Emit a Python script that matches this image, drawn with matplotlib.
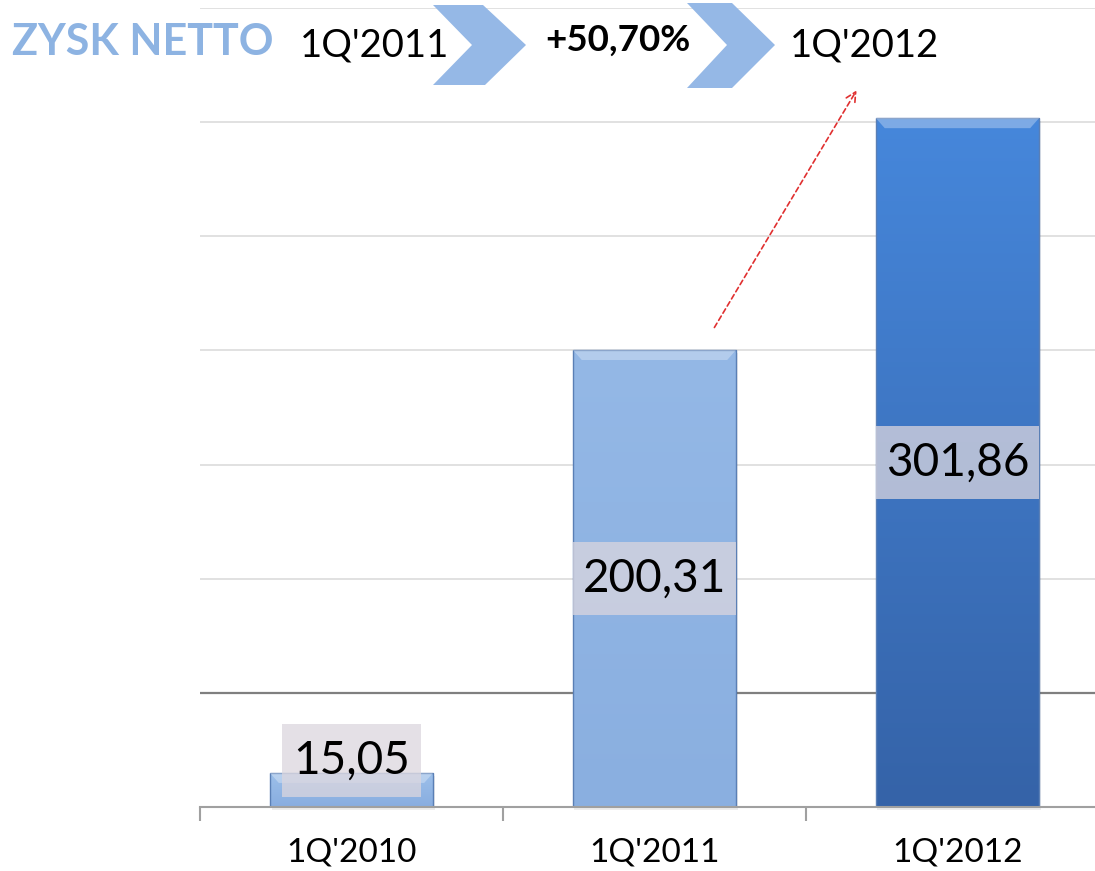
import numpy as np
import matplotlib
matplotlib.use("Agg")
import matplotlib.pyplot as plt
from matplotlib.patches import Rectangle, Polygon
from matplotlib.colors import to_rgb

categories = ["1Q'2010", "1Q'2011", "1Q'2012"]
values = [15.05, 200.31, 301.86]
labels = ["15,05", "200,31", "301,86"]
title = "ZYSK NETTO"
header_from = "1Q'2011"
header_change = "+50,70%"
header_to = "1Q'2012"

top_colors = ["#9dc0ea", "#94b8e6", "#4687db"]
bottom_colors = ["#88ade0", "#8aafe0", "#3563a8"]

plt.rcParams["font.family"] = ["Lato", "DejaVu Sans"]

fig = plt.figure(figsize=(10.95, 8.71), dpi=100)
W, H = 1095, 871
ax = fig.add_axes([200 / W, 64 / H, 895 / W, 799 / H])
ax.set_xlim(-0.5, 2.454)
ax.set_ylim(0, 350)

# gridlines
for g in range(50, 351, 50):
    if g == 50:
        ax.axhline(g, color="#7f7f7f", lw=1.6, zorder=1)
    else:
        ax.axhline(g, color="#dcdcdc", lw=1.2, zorder=1)

x = np.arange(len(categories))
bw = 0.54
bars = ax.bar(x, values, width=bw, color="none", edgecolor="none", zorder=3)

# gradient fill + bevel
for i, b in enumerate(bars):
    x0, w, h = b.get_x(), b.get_width(), b.get_height()
    # soft shadow
    ax.add_patch(Rectangle((x0 + 0.006, -1.5), w, h, facecolor="#000000", alpha=0.07,
                           edgecolor="none", zorder=2, clip_on=False))
    c1 = np.array(to_rgb(top_colors[i]))
    c2 = np.array(to_rgb(bottom_colors[i]))
    t = np.linspace(0, 1, 100)[:, None]
    img = (c1 * (1 - t) + c2 * t)[:, None, :]
    im = ax.imshow(img, extent=[x0, x0 + w, 0, h], aspect="auto", zorder=3,
                   interpolation="bicubic", origin="upper")
    rect = Rectangle((x0, 0), w, h, facecolor="none", edgecolor="#5a7fb5", lw=1.0, zorder=4)
    ax.add_patch(rect)
    im.set_clip_path(rect)
    # top bevel highlight
    bev = min(4.5, h * 0.3)
    ax.add_patch(Polygon([[x0, h], [x0 + w, h], [x0 + w - 0.03, h - bev], [x0 + 0.03, h - bev]],
                         closed=True, facecolor="white", alpha=0.3, edgecolor="none", zorder=4))

# value labels with boxes
for i, v in enumerate(values):
    ly = v / 2 if v / 2 > 25 else 20.5
    x0 = x[i] - bw / 2
    bwid = bw
    if v / 2 <= 25:
        x0 = x[i] - 0.23
        bwid = 0.46
    ax.add_patch(Rectangle((x0, ly - 16), bwid, 32, facecolor="#dbd6de", alpha=0.75,
                           edgecolor="none", zorder=5))
    ax.text(x[i], ly, labels[i], ha="center", va="center", fontsize=33, color="black", zorder=6)

# axes styling
for s in ["top", "right", "left"]:
    ax.spines[s].set_visible(False)
ax.spines["bottom"].set_color("#a0a0a0")
ax.spines["bottom"].set_linewidth(1.5)
ax.spines["bottom"].set_zorder(5)
ax.set_yticks([])
ax.set_xticks(x)
ax.set_xticklabels(categories, fontsize=24)
ax.tick_params(axis="x", which="major", length=0, pad=22)
ax.set_xticks([-0.5, 0.5, 1.5], minor=True)
ax.tick_params(axis="x", which="minor", length=10, width=1.5, color="#a0a0a0")

# arrow
ax.annotate("", xy=(1.672, 315), xytext=(1.193, 209),
            arrowprops=dict(arrowstyle="->", color="#e03030", lw=1.2, linestyle=(0, (3, 2)),
                            mutation_scale=18), zorder=6)

# header
def fx(px):
    return px / W

def fy(py):
    return 1 - py / H

chevrons = [
    [(433, 5), (483, 5), (526, 45), (485, 85), (433, 85), (472, 45)],
    [(687, 3), (732, 3), (775, 45), (732, 88), (687, 88), (727, 45)],
]
for pts in chevrons:
    fig.patches.append(Polygon([(fx(a), fy(b)) for a, b in pts], closed=True,
                               transform=fig.transFigure, facecolor="#95b8e6", edgecolor="none"))

fig.text(fx(12), fy(42), title, fontsize=31, fontweight="bold", color="#8db3e2", va="center", ha="left")
fig.text(fx(300), fy(45), header_from, fontsize=27.5, color="black", va="center", ha="left")
fig.text(fx(545), fy(40), header_change, fontsize=26.5, fontweight="bold", color="black", va="center", ha="left")
fig.text(fx(790), fy(45), header_to, fontsize=27.5, color="black", va="center", ha="left")

fig.savefig("out.png", dpi=100)
